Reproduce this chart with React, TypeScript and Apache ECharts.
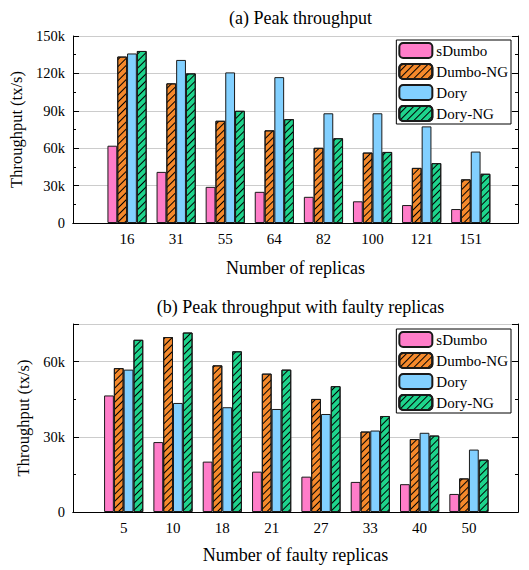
import React, { useEffect, useRef } from "react";
import * as echarts from "echarts";

const seriesNames = ["sDumbo", "Dumbo-NG", "Dory", "Dory-NG"];

const replicas = ["16", "31", "55", "64", "82", "100", "121", "151"];
const peakSDumbo = [62000, 41000, 29000, 25000, 21000, 17400, 14400, 11200];
const peakDumboNG = [133500, 112000, 82000, 74300, 60300, 56500, 44200, 35000];
const peakDory = [136000, 130800, 120800, 117000, 88000, 88000, 77500, 57300];
const peakDoryNG = [138000, 120000, 90000, 83300, 68000, 57000, 48000, 39500];

const faulty = ["5", "10", "18", "21", "27", "33", "40", "50"];
const faultySDumbo = [46500, 27900, 20100, 16100, 14100, 12000, 11100, 7200];
const faultyDumboNG = [57400, 69800, 58500, 55200, 45100, 32100, 29100, 13400];
const faultyDory = [56800, 43500, 41800, 41100, 39100, 32500, 31600, 24900];
const faultyDoryNG = [68700, 71600, 64100, 56800, 50200, 38300, 30500, 20900];

const colors = ["#FF7DC9", "#F5892B", "#82D0FF", "#1ED48C"];
const hatched = [false, true, false, true];

const FONT = "'Liberation Serif', 'Times New Roman', 'DejaVu Serif', serif";

function kFmt(v: number) {
  return v === 0 ? "0" : v / 1000 + "k";
}

export default function App() {
  const ref = useRef<HTMLDivElement>(null);
  useEffect(() => {
    if (!ref.current) return;
    const chart = echarts.init(ref.current, undefined, { renderer: "svg" });

    const panels = [
      {
        title: "(a) Peak throughput",
        titleTop: 4,
        cats: replicas,
        data: [peakSDumbo, peakDumboNG, peakDory, peakDoryNG],
        max: 150000,
        frame: { left: 73, top: 36, width: 445, height: 187 },
        bars: { left: 102.5, width: 392.8 },
        xName: "Number of replicas",
        xNameGap: 36,
        yNameGap: 44,
        legendTop: 40,
      },
      {
        title: "(b) Peak throughput with faulty replicas",
        titleTop: 293,
        cats: faulty,
        data: [faultySDumbo, faultyDumboNG, faultyDory, faultyDoryNG],
        max: 75000,
        frame: { left: 73, top: 324, width: 445, height: 188 },
        bars: { left: 99, width: 394.6 },
        xName: "Number of faulty replicas",
        xNameGap: 34,
        yNameGap: 34,
        legendTop: 329,
      },
    ];

    const grid: any[] = [];
    const xAxis: any[] = [];
    const yAxis: any[] = [];
    const series: any[] = [];
    const title: any[] = [];
    const legend: any[] = [];

    panels.forEach((p) => {
      const fg = grid.length;
      grid.push({ left: p.frame.left, top: p.frame.top, width: p.frame.width, height: p.frame.height });
      const bg = grid.length;
      grid.push({ left: p.bars.left, top: p.frame.top, width: p.bars.width, height: p.frame.height });

      title.push({
        text: p.title,
        left: p.frame.left + p.frame.width / 2,
        textAlign: "center",
        top: p.titleTop,
        textStyle: { fontFamily: FONT, fontSize: 18, fontWeight: "normal", color: "#000" },
      });

      legend.push({
        data: seriesNames,
        orient: "vertical",
        right: 18,
        top: p.legendTop,
        backgroundColor: "#fff",
        borderColor: "#000",
        borderWidth: 1,
        borderRadius: 0,
        padding: [2, 3, 2, 2],
        itemGap: 4,
        itemWidth: 33,
        itemHeight: 15,
        selectedMode: false,
        textStyle: { fontFamily: FONT, fontSize: 15, color: "#000", padding: [0, 0, 0, -1] },
      });

      const line = { show: true, lineStyle: { color: "#000", width: 1 } };

      xAxis.push({
        gridIndex: fg,
        type: "value",
        min: 0,
        max: 1,
        position: "bottom",
        axisLine: line,
        axisTick: { show: false },
        axisLabel: { show: false },
        splitLine: { show: false },
        name: p.xName,
        nameLocation: "middle",
        nameGap: p.xNameGap,
        nameTextStyle: { fontFamily: FONT, fontSize: 18, color: "#000" },
      });
      xAxis.push({
        gridIndex: fg,
        type: "value",
        min: 0,
        max: 1,
        position: "top",
        axisLine: line,
        axisTick: { show: false },
        axisLabel: { show: false },
        splitLine: { show: false },
      });
      const barX = xAxis.length;
      xAxis.push({
        gridIndex: bg,
        type: "category",
        data: p.cats,
        axisLine: { show: false },
        axisTick: { show: false },
        axisLabel: { fontFamily: FONT, fontSize: 15, color: "#000", margin: 8 },
        splitLine: { show: false },
      });

      yAxis.push({
        gridIndex: fg,
        type: "value",
        min: 0,
        max: p.max,
        interval: 30000,
        position: "left",
        axisLine: { show: false },
        axisTick: { show: true, inside: true, length: 6, lineStyle: { color: "#000" } },
        axisLabel: {
          fontFamily: FONT,
          fontSize: 14.5,
          color: "#000",
          margin: 8,
          formatter: (v: number) => (v % 30000 === 0 ? kFmt(v) : ""),
        },
        splitLine: { show: true, lineStyle: { color: "#cccccc", width: 1 } },
        name: "Throughput (tx/s)",
        nameLocation: "middle",
        nameGap: p.yNameGap,
        nameTextStyle: { fontFamily: FONT, fontSize: 16.5, color: "#000" },
      });
      yAxis.push({
        gridIndex: fg,
        type: "value",
        min: 0,
        max: p.max,
        interval: 15000,
        position: "left",
        axisLine: line,
        axisTick: { show: true, inside: true, length: 3, lineStyle: { color: "#000" } },
        axisLabel: { show: false },
        splitLine: { show: false },
      });
      yAxis.push({
        gridIndex: fg,
        type: "value",
        min: 0,
        max: p.max,
        interval: 30000,
        position: "right",
        axisLine: { show: false },
        axisTick: { show: true, inside: true, length: 6, lineStyle: { color: "#000" } },
        axisLabel: { show: false },
        splitLine: { show: false },
      });
      yAxis.push({
        gridIndex: fg,
        type: "value",
        min: 0,
        max: p.max,
        interval: 15000,
        position: "right",
        axisLine: line,
        axisTick: { show: true, inside: true, length: 3, lineStyle: { color: "#000" } },
        axisLabel: { show: false },
        splitLine: { show: false },
      });
      const barY = yAxis.length;
      yAxis.push({
        gridIndex: bg,
        type: "value",
        min: 0,
        max: p.max,
        show: false,
        splitLine: { show: false },
      });

      p.data.forEach((d, i) => {
        series.push({
          type: "bar",
          name: seriesNames[i],
          xAxisIndex: barX,
          yAxisIndex: barY,
          data: d,
          barWidth: 9.8,
          barGap: "0%",
          itemStyle: {
            color: colors[i],
            borderColor: "#1a1a1a",
            borderWidth: 1,
            decal: hatched[i]
              ? {
                  symbol: "rect",
                  symbolSize: 1,
                  color: "#000",
                  dashArrayX: [1, 0],
                  dashArrayY: [1, 3.5],
                  rotation: -Math.PI / 4,
                }
              : "none",
          },
        });
      });
    });

    chart.setOption({
      animation: false,
      textStyle: { fontFamily: FONT },
      title,
      legend,
      grid,
      xAxis,
      yAxis,
      series,
    });
    return () => chart.dispose();
  }, []);
  return (
    <div
      ref={ref}
      style={{ position: "fixed", left: 0, top: 0, width: 529, height: 570, background: "#fff" }}
    />
  );
}
